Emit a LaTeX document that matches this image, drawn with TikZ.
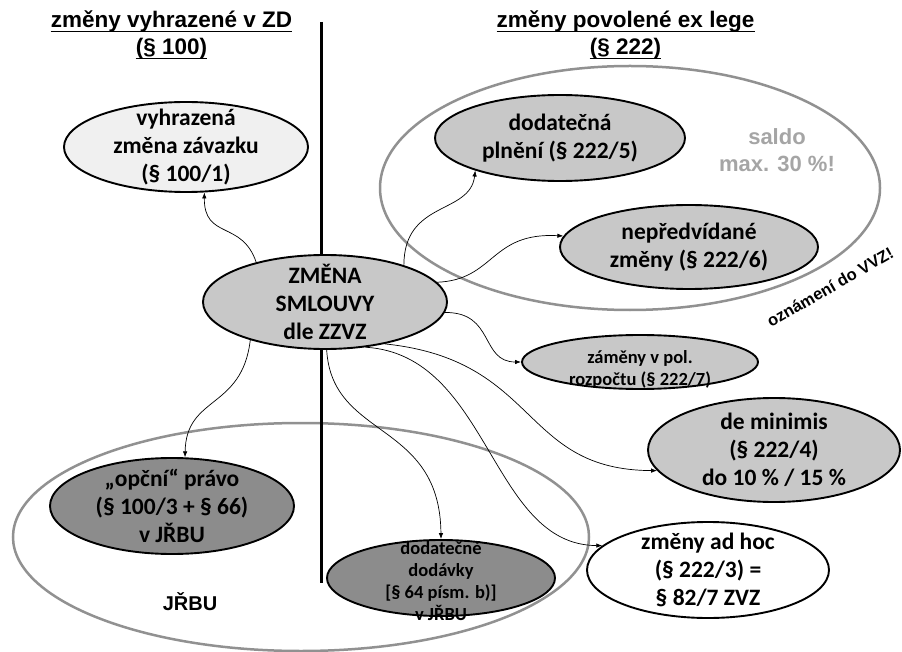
\documentclass[tikz,border=0pt]{standalone}
\usepackage{fontspec}
\setmainfont{Carlito}
\newfontfamily\arialf{Liberation Sans}
\usetikzlibrary{shapes.geometric,arrows.meta}
\definecolor{lightfill}{RGB}{200,200,200}
\definecolor{darkfill}{RGB}{140,140,140}
\definecolor{vlightfill}{RGB}{240,240,240}
\definecolor{bigc}{RGB}{145,145,145}
\definecolor{saldoc}{RGB}{165,165,165}
\begin{document}
\begin{tikzpicture}[x=1pt,y=-1pt,
  ell/.style={ellipse, draw=black, line width=1.9pt, inner sep=0pt},
  mtxt/.style={font=\bfseries\fontsize{23.5}{28}\selectfont, align=center, inner sep=0pt},
  stxt/.style={font=\bfseries\fontsize{18.5}{22}\selectfont, align=center, inner sep=0pt},
  hdr/.style={font=\arialf\bfseries\fontsize{22.5}{27}\selectfont, inner sep=0pt, anchor=base},
  uline/.style={line width=1.6pt},
  grp/.style={ellipse, draw=bigc, line width=2.5pt, inner sep=0pt},
  divider/.style={line width=3pt},
  arr/.style={-{Latex[length=6pt,width=4.5pt]}, line width=0.7pt}]
\useasboundingbox (0,0) rectangle (902,652);
\fill[white] (0,0) rectangle (902,652);

% vertical divider (behind the nodes)
\coordinate (vt) at (321,22);
\coordinate (vm) at (321,360);
\coordinate (vb) at (321,583);
\draw[divider] (vt) -- (vb);

% headers
\node[hdr] (hl1) at (171.5,28) {změny vyhrazené v ZD};
\node[hdr] (hl2) at (171.5,55) {(§ 100)};
\node[hdr] (hr1) at (625.5,28) {změny povolené ex lege};
\node[hdr] (hr2) at (625.5,55) {(§ 222)};
\foreach \h in {hl1,hl2,hr1,hr2}
  \draw[uline] ([yshift=-3.5pt]\h.base west) -- ([yshift=-3.5pt]\h.base east);

% ellipses
\node[ell, fill=vlightfill, minimum width=244pt, minimum height=90pt] (vyh) at (186,147) {};
\node[ell, fill=lightfill, minimum width=244pt, minimum height=94pt] (zm) at (325,302) {};
\node[ell, fill=lightfill, minimum width=250pt, minimum height=86pt] (dod) at (560,138) {};
\node[ell, fill=lightfill, minimum width=258pt, minimum height=84pt] (nep) at (689,247) {};
\node[ell, fill=lightfill, minimum width=236pt, minimum height=54pt] (zam) at (640,362) {};
\node[ell, fill=lightfill, minimum width=252pt, minimum height=104pt] (demin) at (774,450) {};
\node[ell, fill=white, minimum width=242pt, minimum height=96pt] (adh) at (708,570) {};
\node[ell, fill=darkfill, minimum width=244pt, minimum height=96pt] (opc) at (172,506) {};
\node[ell, fill=darkfill, minimum width=228pt, minimum height=76pt] (dov) at (441,578) {};

% texts
\node[mtxt] (vyhT) at (vyh.center) {vyhrazená\\změna závazku\\(§ 100/1)};
\node[mtxt] (zmT) at (zm.center) {ZMĚNA\\SMLOUVY\\dle ZZVZ};
\node[mtxt] (dodT) at (dod.center) {dodatečná\\plnění (§ 222/5)};
\node[mtxt] (nepT) at (nep.center) {nepředvídané\\změny (§ 222/6)};
\node[stxt] (zamT) at (640,369) {záměny v pol.\\rozpočtu (§ 222/7)};
\node[mtxt] (deminT) at (demin.center) {de minimis\\(§ 222/4)\\do 10 \% / 15 \%};
\node[mtxt] (adhT) at (adh.center) {změny ad hoc\\(§ 222/3) =\\§ 82/7 ZVZ};
\node[mtxt] (opcT) at (opc.center) {„opční“ právo\\(§ 100/3 + § 66)\\v JŘBU};
\node[stxt] (dovT) at (441,581) {dodatečné\\dodávky\\{}[§ 64 písm. b)]\\v JŘBU};

% group ellipses
\node[grp, minimum width=500pt, minimum height=244pt] (grpT) at (630,188) {};
\node[grp, minimum width=576pt, minimum height=228pt] (grpB) at (301,537) {};

% divider lower part over the group ellipse
\draw[divider] (vm) -- (vb);

% labels
\node[font=\arialf\bfseries\fontsize{22}{27}\selectfont, text=saldoc, inner sep=0pt, anchor=base] (sal1) at (777,145) {saldo};
\node[font=\arialf\bfseries\fontsize{22}{27}\selectfont, text=saldoc, inner sep=0pt, anchor=base] (sal2) at (777,172) {max. 30 \%!};
\node[font=\arialf\bfseries\fontsize{16.5}{19}\selectfont, rotate=30, inner sep=0pt] (ozn) at (830,287) {oznámení do VVZ!};
\node[font=\arialf\bfseries\fontsize{20}{24}\selectfont, inner sep=0pt, anchor=base] (jrbu) at (190,610) {JŘBU};

% connectors
\draw[arr] (zm.150) .. controls (242,220) and (204,240) .. (vyh.-68);
\draw[arr] (zm.-153) .. controls (242,410) and (186,395) .. (opc.75);
\draw[arr] (zm.25) .. controls (404,200) and (470,215) .. (dod.-159);
\draw[arr] (zm.10) .. controls (495,280) and (490,232) .. (nep.175);
\draw[arr] (zm.-5) .. controls (495,312) and (480,362) .. (zam.west);
\draw[arr] (zm.-35) .. controls (540,360) and (520,470) .. (demin.-170);
\draw[arr] (zm.-48) .. controls (490,355) and (490,545) .. (adh.167);
\draw[arr] (zm.-88) .. controls (332,440) and (440,420) .. (dov.north);
\end{tikzpicture}
\end{document}
